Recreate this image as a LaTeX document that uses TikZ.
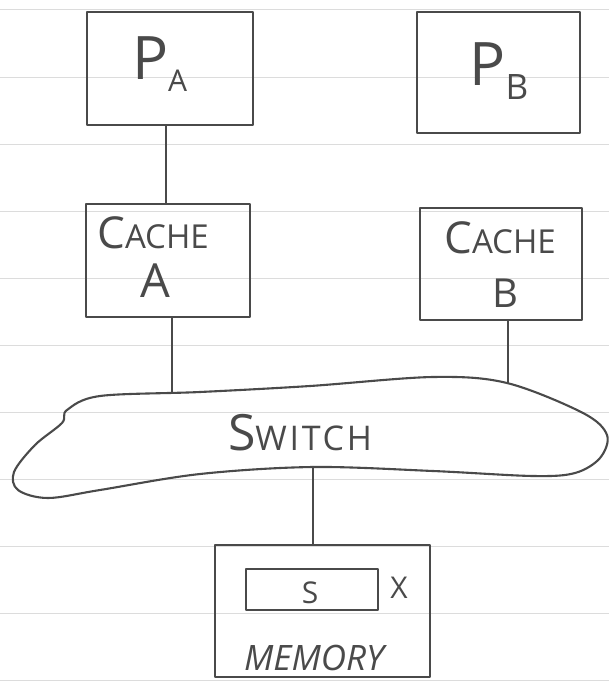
\documentclass[tikz,border=0pt]{standalone}
\usepackage{fontspec}
\setmainfont{Open Sans}
\definecolor{inkc}{HTML}{4A4A4A}
\definecolor{rulec}{HTML}{DCDCDC}
\newcommand\hwsz[2]{{\fontsize{#1}{#1}\selectfont #2}}
\tikzset{
  ink/.style={draw=inkc, line width=2.1pt, line cap=round, line join=round},
  box/.style={ink, rectangle, inner sep=0pt},
  txt/.style={text=inkc, inner sep=0pt, anchor=base},
  paperline/.style={draw=rulec, line width=1pt},
}
\begin{document}
\begin{tikzpicture}[x=1pt, y=-1pt]
\useasboundingbox (0,0) rectangle (609,685);
\fill[white] (0,0) rectangle (609,685);
% ruled paper
\foreach \k in {0,...,10} {
  \draw[paperline] (0,{10+67*\k}) -- (609,{10+67*\k});
}
% processors
\node[box, minimum width=166, minimum height=113] (pa) at (170,68.5) {};
\node[box, minimum width=163, minimum height=121] (pb) at (498.5,72.5) {};
\node[txt] (pat) at (160,80) {\hwsz{60}{P}\kern-1pt\raisebox{-12pt}{\hwsz{30}{A}}};
\node[txt] (pbt) at (499,85) {\hwsz{60}{P}\kern0pt\raisebox{-14pt}{\hwsz{35}{B}}};
% caches
\node[box, minimum width=164, minimum height=113] (ca) at (168,260.5) {};
\node[box, minimum width=162, minimum height=112] (cb) at (501,264) {};
\node[txt] (cat1) at (153,248) {\hwsz{44}{C}\hwsz{33}{ACHE}};
\node[txt] (cat2) at (155,297) {\hwsz{47}{A}};
\node[txt] (cbt1) at (500,253) {\hwsz{44}{C}\hwsz{33}{ACHE}};
\node[txt] (cbt2) at (505,307) {\hwsz{40}{B}};
% switch cloud
\path[ink] plot[smooth cycle, tension=0.55] coordinates {
  (67,410) (100,396) (200,392) (310,386) (433,377) (507,383) (583,413)
  (607,435) (600,458) (575,473) (533,476) (433,471) (313,467) (200,474)
  (100,490) (48,498) (18,490) (14,472) (35,445) (62,423)};
\node[txt] (sw) at (300,450) {\addfontfeatures{LetterSpace=8}\hwsz{50}{S}\hwsz{34}{WITCH}};
\coordinate (swA) at (172,392);
\coordinate (swB) at (508,383);
\coordinate (swM) at (313,467);
% memory
\node[box, minimum width=215, minimum height=132] (mem) at (322.5,611) {};
\node[box, minimum width=132, minimum height=41] (cell) at (312,589.5) {};
\node[txt] (cellt) at (310,603) {\hwsz{30}{S}};
\node[txt] (xt) at (399,598) {\hwsz{30}{X}};
\node[txt] (memt) at (314,670) {\itshape\hwsz{35}{MEMORY}};
% connectors
\draw[ink] ([xshift=-4pt]pa.south) -- ([xshift=-4pt]pa.south |- ca.north);
\draw[ink] (ca.south -| swA) -- (swA);
\draw[ink] (cb.south -| swB) -- (swB);
\draw[ink] (swM) -- (swM |- mem.north);
\end{tikzpicture}
\end{document}
